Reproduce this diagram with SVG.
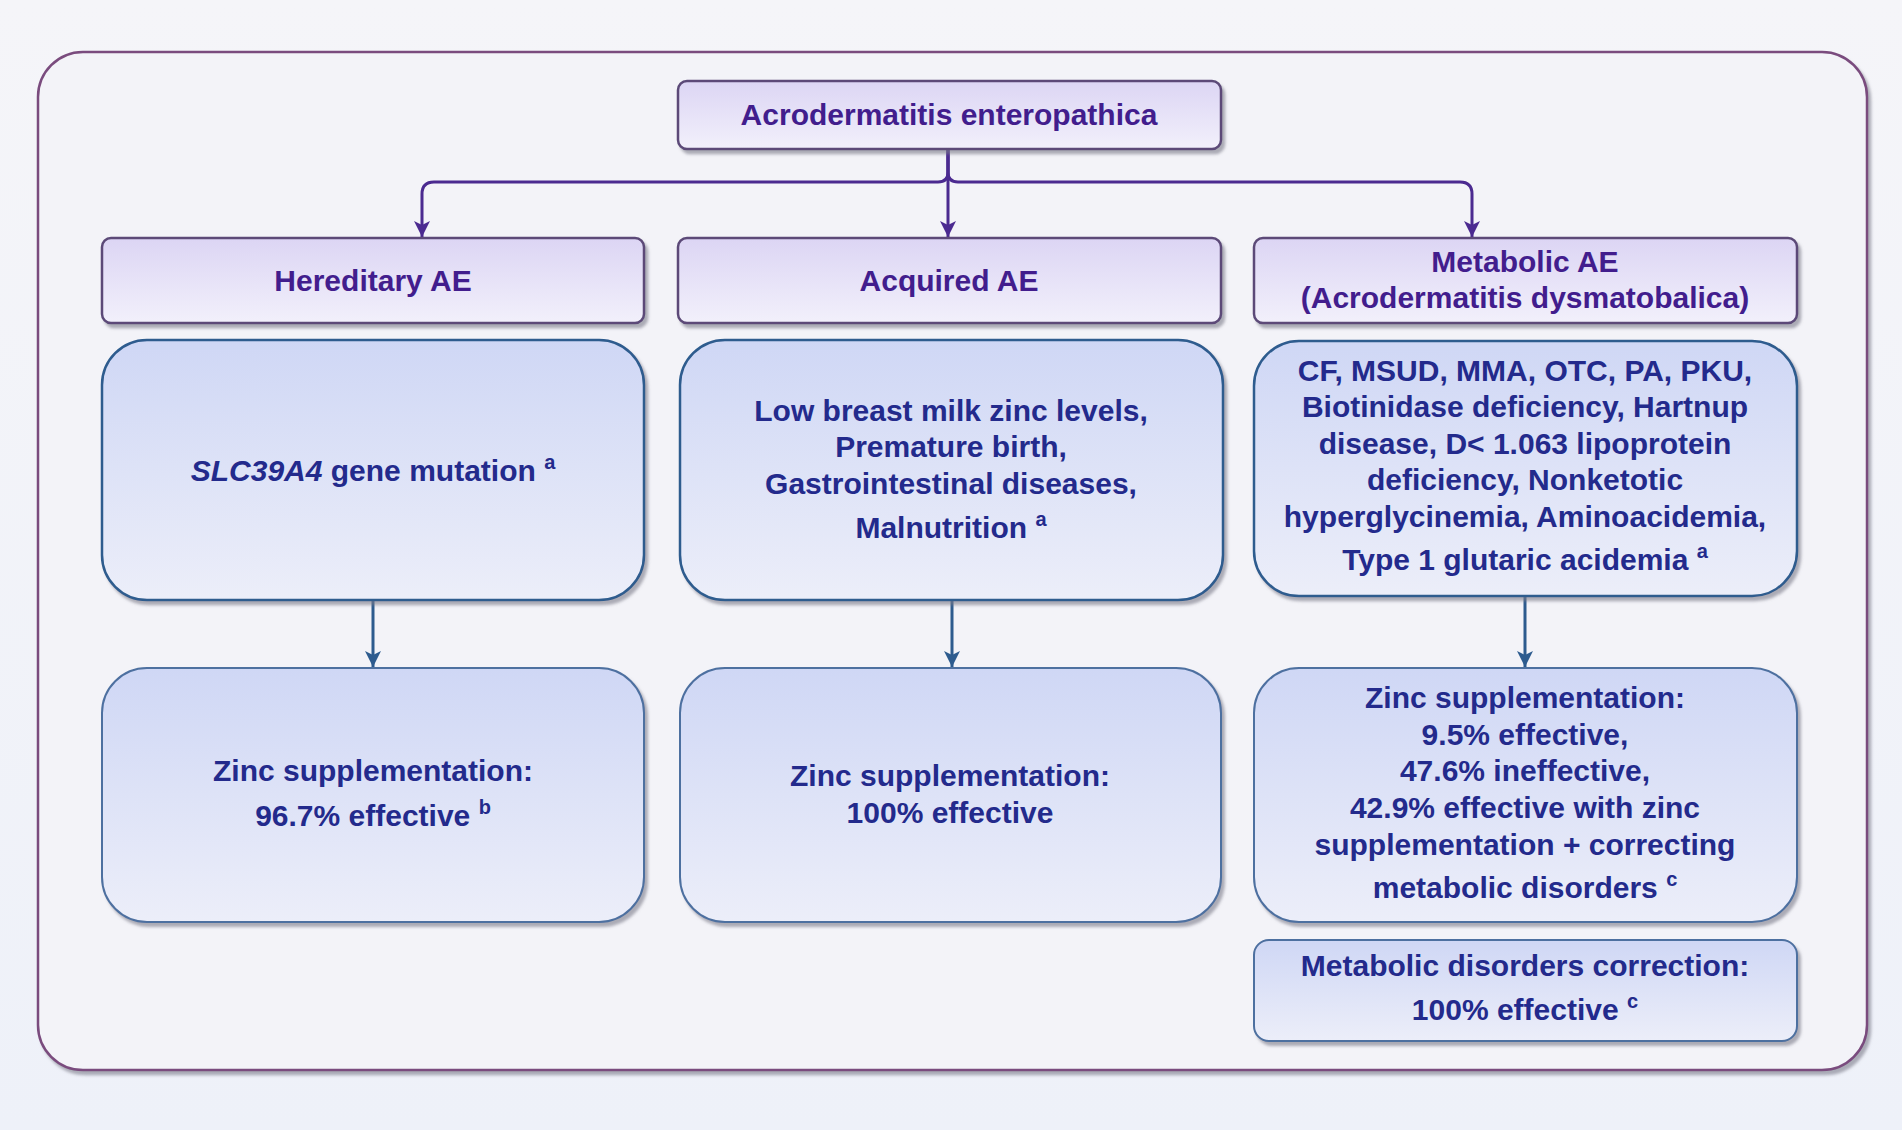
<svg xmlns="http://www.w3.org/2000/svg" width="1902" height="1130" viewBox="0 0 1902 1130">
<defs>
<linearGradient id="bg" x1="0" y1="0" x2="0" y2="1"><stop offset="0" stop-color="#f5f5f9"/><stop offset="1" stop-color="#eef1f9"/></linearGradient>
<linearGradient id="hdr" x1="0" y1="0" x2="0" y2="1"><stop offset="0" stop-color="#dcd5f4"/><stop offset="1" stop-color="#f2f0fb"/></linearGradient>
<linearGradient id="blu" x1="0" y1="0" x2="0" y2="1"><stop offset="0" stop-color="#cfd7f5"/><stop offset="1" stop-color="#eceef9"/></linearGradient>
<filter id="sh" x="-5%" y="-5%" width="112%" height="120%"><feDropShadow dx="3" dy="4" stdDeviation="1.5" flood-color="#7a7a88" flood-opacity="0.6"/></filter>
<marker id="ap" viewBox="0 0 16 16" refX="16" refY="8" markerWidth="16" markerHeight="16" markerUnits="userSpaceOnUse" orient="auto"><path d="M0,0 L16,8 L0,16 L4,8 Z" fill="#4b2a90"/></marker>
<marker id="ab" viewBox="0 0 16 16" refX="16" refY="8" markerWidth="16" markerHeight="16" markerUnits="userSpaceOnUse" orient="auto"><path d="M0,0 L16,8 L0,16 L4,8 Z" fill="#2d5b8e"/></marker>
<style>
text{font-family:"Liberation Sans",Arial,sans-serif;font-weight:bold;font-size:30px;text-anchor:middle}
.ht{fill:#421d8d}
.bt{fill:#232a8c}
.hb{fill:url(#hdr);stroke:#5b4a78;stroke-width:2.5}
.b3{fill:url(#blu);stroke:#2d5b8e;stroke-width:2.5}
.b4{fill:url(#blu);stroke:#4e70a0;stroke-width:2}
.cp{fill:none;stroke:#4b2a90;stroke-width:3}
.cb{fill:none;stroke:#2d5b8e;stroke-width:3}
.sup{font-size:20px}
</style>
</defs>
<rect width="1902" height="1130" fill="url(#bg)"/>
<rect x="38" y="52" width="1829" height="1018" rx="45" fill="#f3f3f8" stroke="#7a4c7e" stroke-width="2.5" filter="url(#sh)"/>

<g id="connectors">
<path class="cp" d="M948,149 L948,172 Q948,182 938,182 L434,182 Q422,182 422,194 L422,237" marker-end="url(#ap)"/>
<path class="cp" d="M948,149 L948,172 Q948,182 958,182 L1460,182 Q1472,182 1472,194 L1472,237" marker-end="url(#ap)"/>
<path class="cp" d="M948,149 L948,237" marker-end="url(#ap)"/>
<path class="cb" d="M373,600 L373,667" marker-end="url(#ab)"/>
<path class="cb" d="M952,600 L952,667" marker-end="url(#ab)"/>
<path class="cb" d="M1525,596 L1525,667" marker-end="url(#ab)"/>
</g>

<g id="root">
<rect class="hb" x="678" y="81" width="543" height="68" rx="9" filter="url(#sh)"/>
<text class="ht" x="949" y="125">Acrodermatitis enteropathica</text>
</g>

<g id="hereditary">
<rect class="hb" x="102" y="238" width="542" height="85" rx="9" filter="url(#sh)"/>
<text class="ht" x="373" y="291">Hereditary AE</text>
</g>
<g id="acquired">
<rect class="hb" x="678" y="238" width="543" height="85" rx="9" filter="url(#sh)"/>
<text class="ht" x="949" y="291">Acquired AE</text>
</g>
<g id="metabolic">
<rect class="hb" x="1254" y="238" width="543" height="85" rx="9" filter="url(#sh)"/>
<text class="ht" x="1525" y="272">Metabolic AE</text>
<text class="ht" x="1525" y="308">(Acrodermatitis dysmatobalica)</text>
</g>

<g id="hereditary-cause">
<rect class="b3" x="102" y="340" width="542" height="260" rx="45" filter="url(#sh)"/>
<text class="bt" x="373" y="481"><tspan font-style="italic">SLC39A4</tspan> gene mutation <tspan class="sup" dy="-12">a</tspan></text>
</g>
<g id="acquired-cause">
<rect class="b3" x="680" y="340" width="543" height="260" rx="45" filter="url(#sh)"/>
<text class="bt" x="951" y="421">Low breast milk zinc levels,</text>
<text class="bt" x="951" y="457">Premature birth,</text>
<text class="bt" x="951" y="494">Gastrointestinal diseases,</text>
<text class="bt" x="951" y="538">Malnutrition <tspan class="sup" dy="-12">a</tspan></text>
</g>
<g id="metabolic-cause">
<rect class="b3" x="1254" y="341" width="543" height="255" rx="45" filter="url(#sh)"/>
<text class="bt" x="1525" y="381">CF, MSUD, MMA, OTC, PA, PKU,</text>
<text class="bt" x="1525" y="417">Biotinidase deficiency, Hartnup</text>
<text class="bt" x="1525" y="454">disease, D&lt; 1.063 lipoprotein</text>
<text class="bt" x="1525" y="490">deficiency, Nonketotic</text>
<text class="bt" x="1525" y="527">hyperglycinemia, Aminoacidemia,</text>
<text class="bt" x="1525" y="570">Type 1 glutaric acidemia <tspan class="sup" dy="-12">a</tspan></text>
</g>

<g id="hereditary-result">
<rect class="b4" x="102" y="668" width="542" height="254" rx="45" filter="url(#sh)"/>
<text class="bt" x="373" y="781">Zinc supplementation:</text>
<text class="bt" x="373" y="826">96.7% effective <tspan class="sup" dy="-12">b</tspan></text>
</g>
<g id="acquired-result">
<rect class="b4" x="680" y="668" width="541" height="254" rx="45" filter="url(#sh)"/>
<text class="bt" x="950" y="786">Zinc supplementation:</text>
<text class="bt" x="950" y="823">100% effective</text>
</g>
<g id="metabolic-result">
<rect class="b4" x="1254" y="668" width="543" height="254" rx="45" filter="url(#sh)"/>
<text class="bt" x="1525" y="708">Zinc supplementation:</text>
<text class="bt" x="1525" y="745">9.5% effective,</text>
<text class="bt" x="1525" y="781">47.6% ineffective,</text>
<text class="bt" x="1525" y="818">42.9% effective with zinc</text>
<text class="bt" x="1525" y="855">supplementation + correcting</text>
<text class="bt" x="1525" y="898">metabolic disorders <tspan class="sup" dy="-12">c</tspan></text>
</g>
<g id="metabolic-correction">
<rect class="b4" x="1254" y="940" width="543" height="101" rx="15" filter="url(#sh)"/>
<text class="bt" x="1525" y="976">Metabolic disorders correction:</text>
<text class="bt" x="1525" y="1020">100% effective <tspan class="sup" dy="-12">c</tspan></text>
</g>
</svg>
